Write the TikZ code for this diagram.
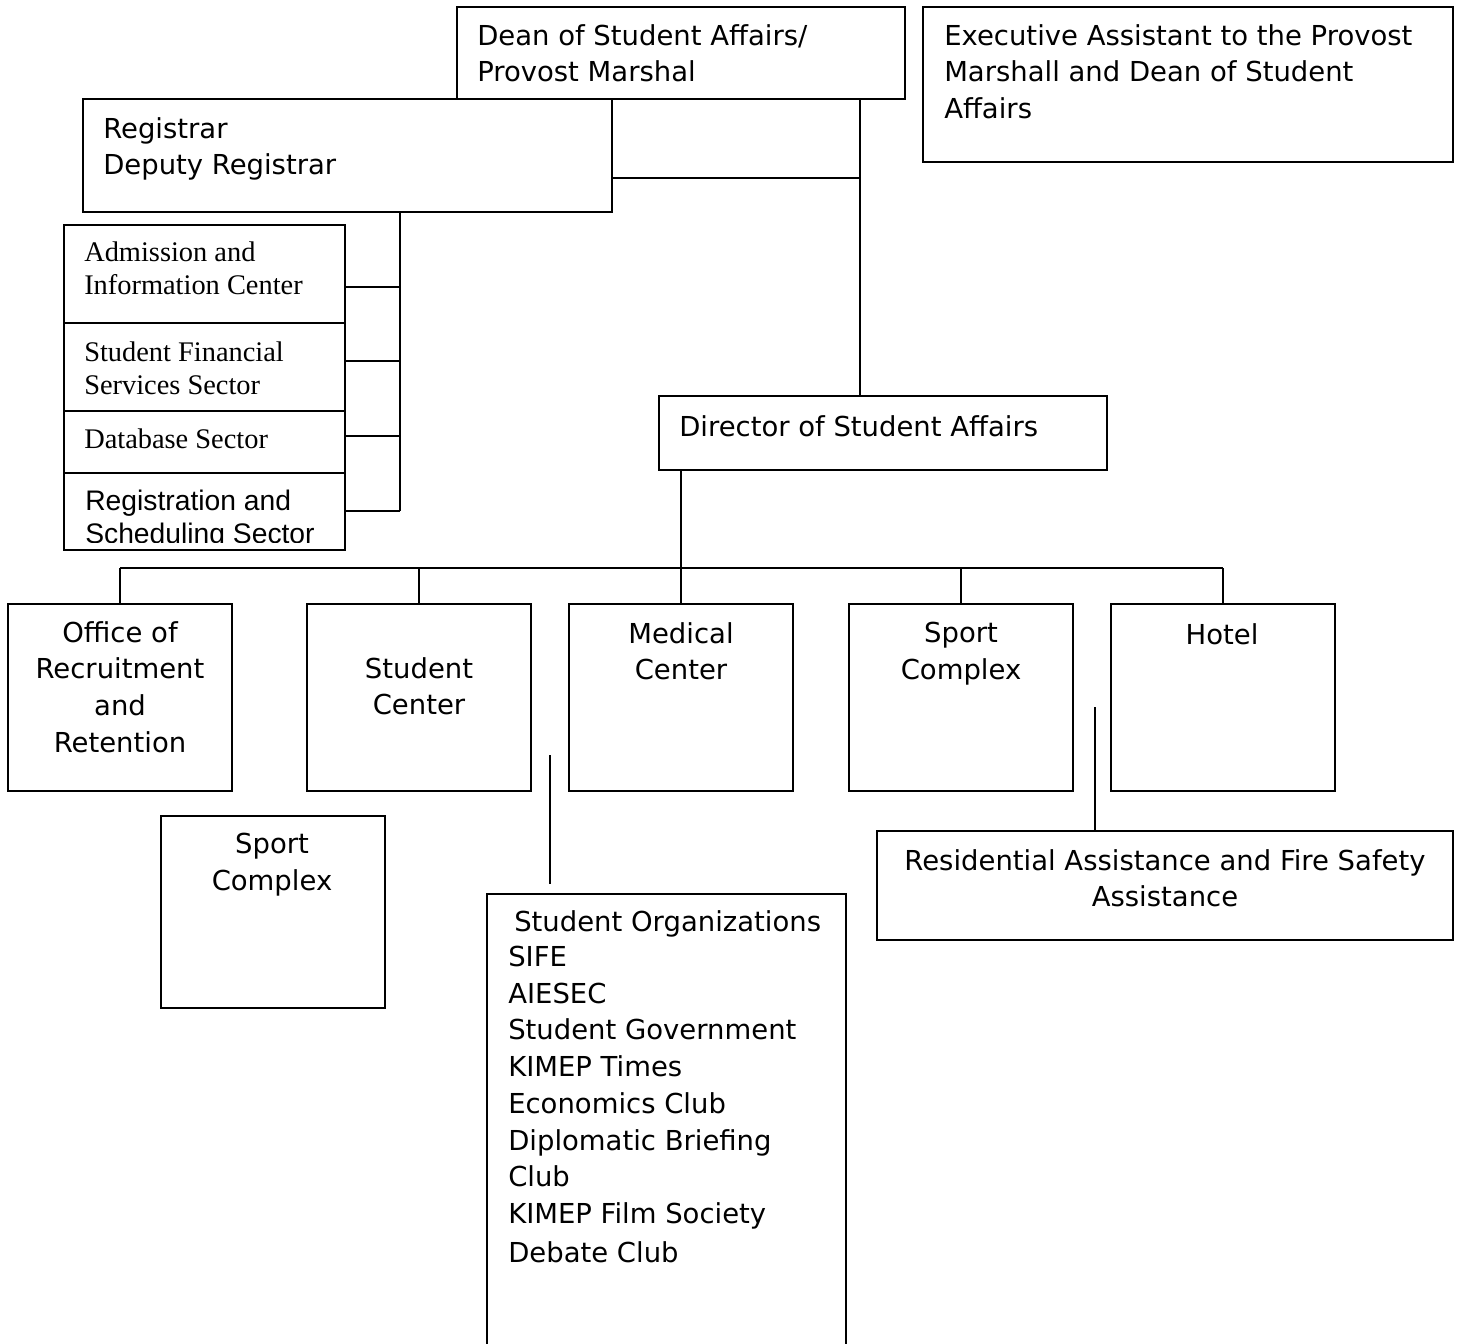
\documentclass[tikz,border=0pt]{standalone}
\usepackage{fontspec}
\setmainfont{DejaVu Sans}
\newfontfamily\serifface{Liberation Serif}
\newfontfamily\arialface{Liberation Sans}
\usetikzlibrary{fit}
\begin{document}
\begin{tikzpicture}[x=0.75pt,y=-0.75pt,
  box/.style={draw,line width=1.3pt,inner sep=0pt},
  wire/.style={line width=1.3pt},
  txt/.style={inner sep=0pt,align=left,font=\fontsize{20.6}{27.5}\selectfont},
  ctxt/.style={inner sep=0pt,align=center,font=\fontsize{20.6}{27.5}\selectfont},
  stxt/.style={inner sep=0pt,align=left,font=\serifface\fontsize{21.3}{24.75}\selectfont},
  atxt/.style={inner sep=0pt,align=left,font=\arialface\fontsize{21.2}{24.75}\selectfont}]
\useasboundingbox[fill=white] (0,0) rectangle (1462,1344);
% boxes
\node[box,fit={(457,7) (905,99)}] (dean) {};
\node[box,fit={(923,7) (1453,162)}] (exec) {};
\node[box,fill=white,fit={(83,99) (612,212)}] (reg) {};
\node[box,fit={(64,225) (345,323)}] (adm) {};
\node[box,fit={(64,323) (345,411)}] (sfs) {};
\node[box,fit={(64,411) (345,473)}] (db) {};
\node[box,fit={(64,473) (345,550)}] (rs) {};
\node[box,fit={(659,396) (1107,470)}] (dir) {};
\node[box,fit={(8,604) (232,791)}] (off) {};
\node[box,fit={(307,604) (531,791)}] (sc) {};
\node[box,fit={(569,604) (793,791)}] (med) {};
\node[box,fit={(849,604) (1073,791)}] (sport) {};
\node[box,fit={(1111,604) (1335,791)}] (hotel) {};
\node[box,fit={(161,816) (385,1008)}] (sport2) {};
\node[box,fit={(487,894) (846,1360)}] (org) {};
\node[box,fit={(877,831) (1453,940)}] (res) {};
% texts
\node[txt,anchor=north west] (tdean) at (477,24) {Dean of Student Affairs/\\Provost Marshal};
\node[txt,anchor=north west] (texec) at (944,24) {Executive Assistant to the Provost\\Marshall and Dean of Student\\Affairs};
\node[txt,anchor=north west] (treg) at (103,117) {Registrar\\Deputy Registrar};
\node[stxt,anchor=north west] (tadm) at (84,242) {Admission and\\Information Center};
\node[stxt,anchor=north west] (tsfs) at (84,342) {Student Financial\\Services Sector};
\node[stxt,anchor=north west] (tdb) at (84,429) {Database Sector};
\begin{scope}
\clip (64,473) rectangle (345,542);
\node[atxt,anchor=north west] (trs) at (85,490) {Registration and\\Scheduling Sector};
\end{scope}
\node[txt,anchor=north west] (tdir) at (679,415) {Director of Student Affairs};
\node[ctxt,anchor=north] (toff) at (120,621) {Office of\\Recruitment\\and\\Retention};
\node[ctxt,anchor=north] (tsc) at (419,657) {Student\\Center};
\node[ctxt,anchor=north] (tmed) at (681,622) {Medical\\Center};
\node[ctxt,anchor=north] (tsport) at (961,622) {Sport\\Complex};
\node[ctxt,anchor=north] (thotel) at (1222,623) {Hotel};
\node[ctxt,anchor=north] (tsport2) at (272,833) {Sport\\Complex};
\node[txt,anchor=north west] (torg1) at (514,910) {Student Organizations};
\node[txt,anchor=north west] (torg2) at (508,946) {SIFE\\AIESEC\\Student Government\\KIMEP Times\\Economics Club\\Diplomatic Briefing\\Club\\KIMEP Film Society\\[2pt]Debate Club};
\node[ctxt,anchor=north] (tres) at (1165,849) {Residential Assistance and Fire Safety\\Assistance};
% connectors
\coordinate (rbus) at (400,212);
\draw[wire] (rbus) -- (400,511);
\draw[wire] (adm.east |- 0,287) -- (400,287);
\draw[wire] (sfs.east |- 0,361) -- (400,361);
\draw[wire] (db.east |- 0,436) -- (400,436);
\draw[wire] (rs.east |- 0,511) -- (400,511);
\draw[wire] (dean.south -| 860,0) -- (dir.north -| 860,0);
\draw[wire] (reg.east |- 0,178) -- (860,178);
\draw[wire] (dir.south -| 681,0) -- (681,568);
\draw[wire] (off.north |- 0,568) -- (hotel.north |- 0,568);
\draw[wire] (off.north |- 0,568) -- (off.north);
\draw[wire] (sc.north |- 0,568) -- (sc.north);
\draw[wire] (med.north |- 0,568) -- (med.north);
\draw[wire] (sport.north |- 0,568) -- (sport.north);
\draw[wire] (hotel.north |- 0,568) -- (hotel.north);
\coordinate (orgtop) at (550,755);
\draw[wire] (orgtop) -- (550,884);
\coordinate (restop) at (1095,707);
\draw[wire] (restop) -- (res.north -| 1095,0);
\end{tikzpicture}
\end{document}
